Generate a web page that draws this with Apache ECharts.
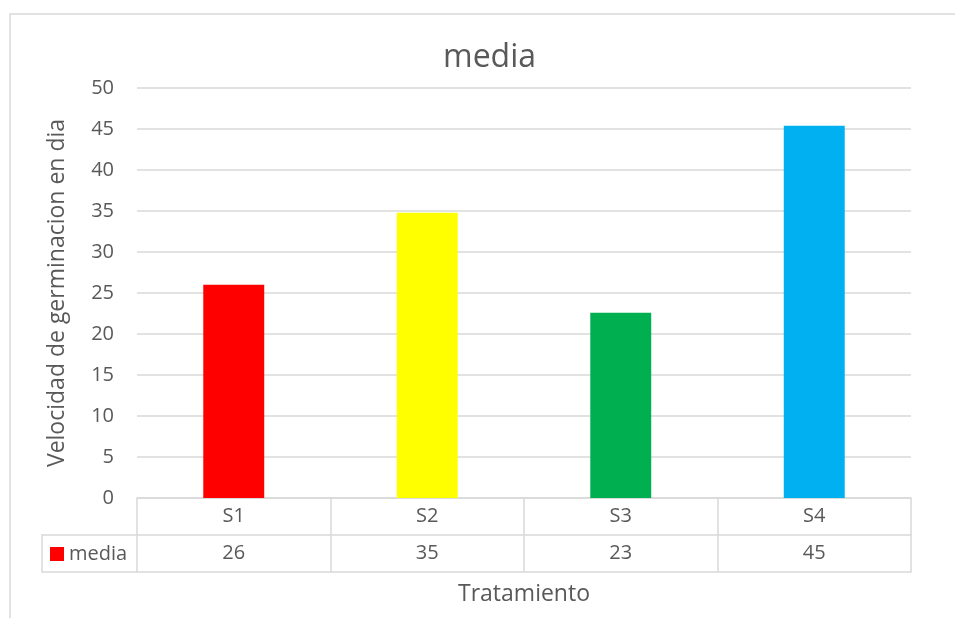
<!DOCTYPE html>
<html>
<head>
<meta charset="utf-8">
<script src="https://cdn.jsdelivr.net/npm/echarts@6/dist/echarts.min.js"></script>
<style>html,body{margin:0;padding:0;background:#fff;}#c{width:955px;height:618px;}</style>
</head>
<body>
<div id="c"></div>
<script>
const categories = ['S1', 'S2', 'S3', 'S4'];
const mediaValues = [26.0, 34.8, 22.6, 45.4];
const barColors = ['#FF0000', '#FFFF00', '#00B050', '#00B0F0'];
const yTicks = [0, 5, 10, 15, 20, 25, 30, 35, 40, 45, 50];
const seriesName = 'media';
const chartTitle = 'media';
const yTitle = 'Velocidad de germinacion en dia';
const xTitle = 'Tratamiento';

const FONT = '"Open Sans", sans-serif';
const TXT = '#595959';
const LINE = '#d9d9d9';
const G = { left: 137, right: 44, top: 88, bottom: 120 };
const ROW = 37;
const W = 955, H = 618;

const chart = echarts.init(document.getElementById('c'), null, { renderer: 'canvas' });
const tableValues = mediaValues.map(v => String(Math.round(v)));

chart.setOption({
  backgroundColor: '#fff',
  animation: false,
  textStyle: { fontFamily: FONT },
  title: {
    text: chartTitle, left: 443, top: 42, padding: 0,
    textStyle: { fontFamily: FONT, fontSize: 32, fontWeight: 'normal', color: TXT }
  },
  legend: {
    left: 50, top: 544, itemWidth: 14, itemHeight: 14, icon: 'rect',
    padding: 0, itemGap: 6,
    data: [seriesName],
    textStyle: { fontFamily: FONT, fontSize: 20, color: TXT }
  },
  grid: { left: G.left, right: G.right, top: G.top, bottom: G.bottom, containLabel: false },
  xAxis: [
    {
      type: 'category', data: categories, position: 'bottom',
      axisLine: { show: true, lineStyle: { color: LINE, width: 1.5 } },
      axisTick: { show: true, length: ROW * 2, lineStyle: { color: LINE, width: 1.5 } },
      axisLabel: { margin: 8, fontFamily: FONT, fontSize: 20, color: TXT }
    },
    {
      type: 'category', data: tableValues, position: 'bottom', offset: ROW,
      axisLine: { show: true, lineStyle: { color: LINE, width: 1.5 } },
      axisTick: { show: false },
      axisLabel: { margin: 8, fontFamily: FONT, fontSize: 20, color: TXT }
    },
    {
      type: 'category', data: categories, position: 'bottom', offset: ROW * 2,
      axisLine: { show: true, lineStyle: { color: LINE, width: 1.5 } },
      axisTick: { show: false },
      axisLabel: { show: false },
      name: xTitle, nameLocation: 'middle', nameGap: 11,
      nameTextStyle: { fontFamily: FONT, fontSize: 23, color: TXT }
    }
  ],
  yAxis: {
    type: 'value', min: yTicks[0], max: yTicks[yTicks.length - 1], interval: yTicks[1] - yTicks[0],
    axisLine: { show: false }, axisTick: { show: false },
    axisLabel: { margin: 23, fontFamily: FONT, fontSize: 20, color: TXT },
    splitLine: { lineStyle: { color: LINE, width: 1.5 } },
    name: yTitle, nameLocation: 'middle', nameGap: 68, nameRotate: 90,
    nameTextStyle: { fontFamily: FONT, fontSize: 23, color: TXT }
  },
  series: [{
    name: seriesName, type: 'bar', xAxisIndex: 0,
    barWidth: '31.5%',
    itemStyle: { color: barColors[0] },
    data: mediaValues.map((v, i) => ({ value: v, itemStyle: { color: barColors[i] } }))
  }],
  graphic: [
    {
      type: 'rect', silent: true,
      shape: { x: 10, y: 14, width: W + 20, height: H + 20 },
      style: { fill: 'none', stroke: LINE, lineWidth: 1.5 }
    },
    {
      type: 'polyline', silent: true,
      shape: { points: [[G.left, H - G.bottom + ROW], [42, H - G.bottom + ROW], [42, H - G.bottom + ROW * 2], [G.left, H - G.bottom + ROW * 2]] },
      style: { fill: 'none', stroke: LINE, lineWidth: 1.5 }
    }
  ]
});
</script>
</body>
</html>
